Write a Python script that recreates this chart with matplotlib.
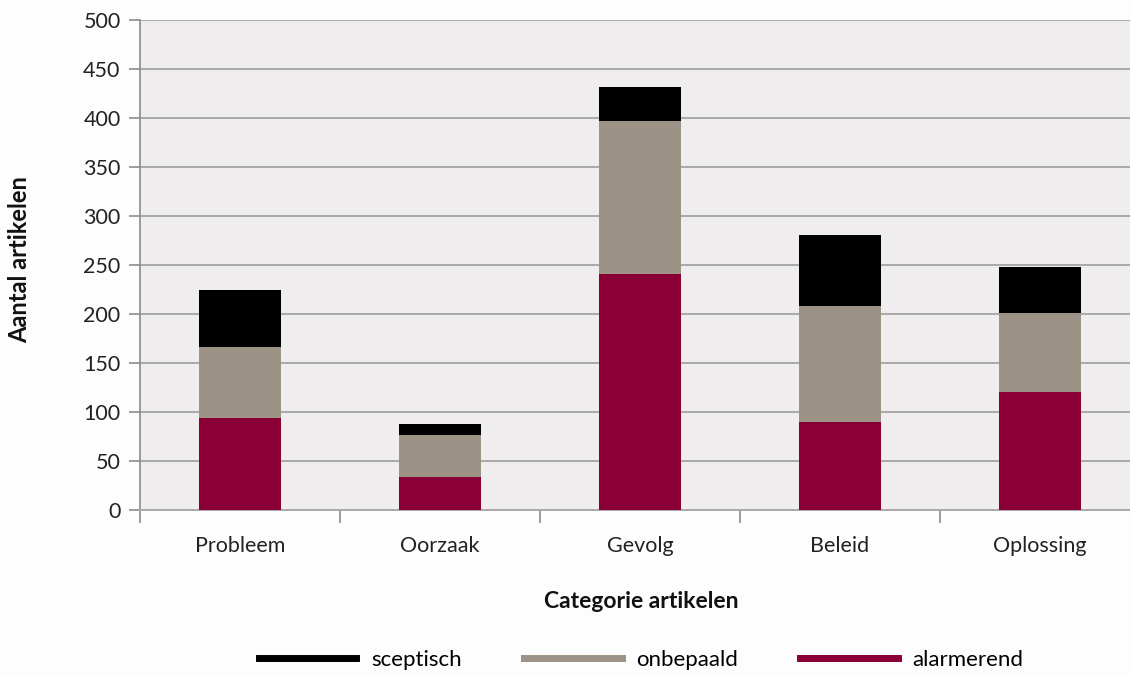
import matplotlib
matplotlib.use("Agg")
import matplotlib.pyplot as plt
from matplotlib.lines import Line2D
import numpy as np

categories = ["Probleem", "Oorzaak", "Gevolg", "Beleid", "Oplossing"]
alarmerend = [94, 34, 241, 90, 120]
onbepaald = [72, 43, 156, 118, 81]
sceptisch = [58, 11, 35, 73, 47]
yticks = [0, 50, 100, 150, 200, 250, 300, 350, 400, 450, 500]

c_alarm = "#8a0036"
c_onb = "#9c9285"
c_scep = "#000000"
grid_c = "#a9a9a9"

plt.rcParams['font.family'] = ['Lato', 'DejaVu Sans']

fig = plt.figure(figsize=(11.3, 6.75), dpi=100)
fig.patch.set_facecolor("#fdfdfd")
ax = fig.add_axes([140/1130, 1-510/675, 1000/1130, 490/675])
ax.set_facecolor("#efedee")

x = np.arange(len(categories))
w = 0.41
a = np.array(alarmerend)
o = np.array(onbepaald)
s = np.array(sceptisch)
ax.bar(x, a, w, color=c_alarm, zorder=3)
ax.bar(x, o, w, bottom=a, color=c_onb, zorder=3)
ax.bar(x, s, w, bottom=a + o, color=c_scep, zorder=3)

ax.set_xlim(-0.5, len(categories) - 0.5)
ax.set_ylim(0, 500)
ax.set_yticks(yticks)
ax.yaxis.grid(True, color=grid_c, linewidth=1.4, zorder=1)
ax.set_axisbelow(True)

for sp in ["top", "right"]:
    ax.spines[sp].set_visible(False)
ax.spines["left"].set_color("#8c8c8c")
ax.spines["left"].set_linewidth(1.2)
ax.spines["bottom"].set_color(grid_c)
ax.spines["bottom"].set_linewidth(1.4)

ax.set_xticks(x)
ax.set_xticklabels(categories)
ax.set_xticks(np.arange(-0.5, len(categories) + 0.5, 1), minor=True)
ax.tick_params(axis="x", which="major", length=0, pad=19, labelsize=15.5, colors="#222222")
ax.tick_params(axis="x", which="minor", length=9, color="#8c8c8c", width=1.2)
ax.tick_params(axis="y", length=8, color="#8c8c8c", width=1.2, pad=6, labelsize=15.5, colors="#222222")
for lbl in ax.get_yticklabels():
    lbl.set_color("#222222")

fig.text(641/1130, 1-601/675, "Categorie artikelen", ha="center", va="center",
         fontsize=16.5, fontweight="bold", color="#111111")
fig.text(20/1130, 1-260/675, "Aantal artikelen", ha="center", va="center",
         rotation=90, fontsize=17, fontweight="bold", color="#111111")

handles = [Line2D([0], [0], color=c_scep, lw=5),
           Line2D([0], [0], color=c_onb, lw=5),
           Line2D([0], [0], color=c_alarm, lw=5)]
fig.legend(handles, ["sceptisch", "onbepaald", "alarmerend"], loc="center",
           bbox_to_anchor=(641/1130, 1-660/675), ncol=3, frameon=False,
           handlelength=4.4, handletextpad=0.65, columnspacing=2.8, fontsize=16)

fig.savefig("out.png", dpi=100, facecolor=fig.get_facecolor())
